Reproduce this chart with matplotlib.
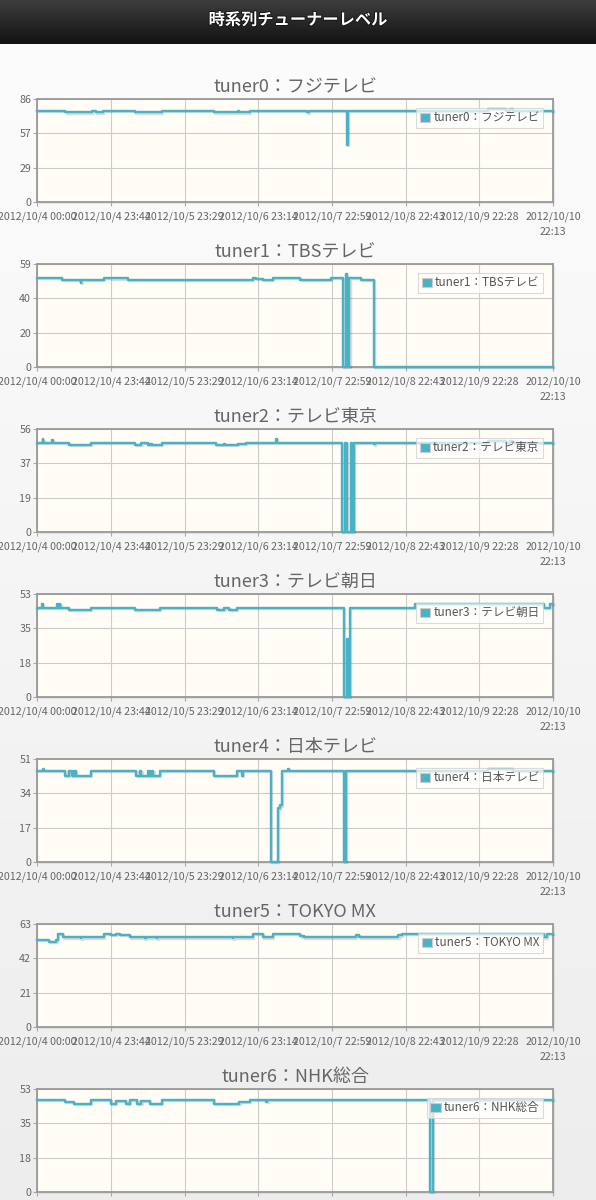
import numpy as np
import matplotlib
matplotlib.use("Agg")
import matplotlib.pyplot as plt
from matplotlib.patches import Rectangle, Patch
import matplotlib.patheffects as pe

plt.rcParams['font.family'] = ['Noto Sans CJK JP', 'DejaVu Sans']

# ---------------- data ----------------
page_title = "時系列チューナーレベル"
titles = ["tuner0：フジテレビ", "tuner1：TBSテレビ", "tuner2：テレビ東京",
          "tuner3：テレビ朝日", "tuner4：日本テレビ", "tuner5：TOKYO MX",
          "tuner6：NHK総合"]
ymax = [86, 59.4, 56, 53, 51, 63, 53]
# hours since 2012/10/4 00:00 ; last sample 2012/10/10 22:13
t_end = 166.22
x_tick_labels = ["2012/10/4 00:00", "2012/10/4 23:44", "2012/10/5 23:29",
                 "2012/10/6 23:14", "2012/10/7 22:59", "2012/10/8 22:43",
                 "2012/10/9 22:28", "2012/10/10\n22:13"]

t0 = [0, 9.04, 17.76, 18.84, 21.02, 31.37, 40.09, 56.97, 64.6, 65.14, 68.41,
      86.93, 87.4, 99.78, 100.0, 145.2, 151.19, 152.28, 153.37, 166.22]
v0 = [76.4, 75.0, 76.4, 75.0, 76.4, 75.0, 76.4, 75.0, 76.4, 75.0, 76.4,
      75.0, 76.4, 47.5, 76.4, 77.8, 76.4, 77.8, 76.4, 76.4]

t1 = [0, 7.95, 13.94, 14.2, 21.35, 23.75, 29.19, 69.5, 70.6, 72.77, 76.03,
      84.75, 94.55, 98.6, 99.5, 99.7, 100.6, 104.35, 108.49, 166.22]
v1 = [51.6, 50.4, 48.5, 50.4, 51.6, 51.2, 50.4, 51.6, 50.9, 50.4, 51.6,
      50.4, 51.6, 0, 53.5, 0, 51.6, 50.4, 0, 0]

t2 = [0, 1.74, 1.95, 4.68, 4.9, 10.13, 17.21, 31.37, 33.55, 35.73, 36.27,
      37.0, 40.09, 57.52, 60.24, 60.5, 64.6, 67.32, 76.91, 77.1, 98.04,
      99.24, 99.67, 101.09, 101.41, 101.96, 108.49, 108.7, 145.2, 151.19,
      152.28, 153.37, 166.22]
v2 = [48.7, 50.5, 48.7, 50.2, 48.7, 47.5, 48.7, 47.5, 48.7, 47.5, 48.2,
      47.5, 48.7, 47.5, 48.2, 47.5, 48.2, 48.7, 50.8, 48.7, 0,
      48.7, 0, 48.7, 0, 48.7, 47.8, 48.7, 49.8, 48.7,
      49.8, 48.7, 48.7]

t3 = [0, 1.42, 1.65, 6.32, 6.5, 7.19, 7.41, 10.13, 17.21, 31.37, 39.54,
      58.06, 60.24, 61.87, 64.27, 98.91, 99.8, 100.0, 100.76, 121.78,
      163.18, 165.14, 166.22]
v3 = [45.8, 47.9, 45.8, 47.9, 45.8, 47.9, 45.8, 44.8, 45.8, 44.8, 45.8,
      44.8, 45.8, 44.8, 45.8, 0, 30.0, 0, 45.8, 47.9,
      45.8, 47.9, 47.9]

t4 = [0, 1.74, 2.0, 9.04, 10.13, 11.2, 11.76, 12.31, 17.21, 31.92, 33.0,
      33.55, 35.73, 36.3, 36.82, 37.4, 39.54, 56.97, 64.27, 66.01, 66.2,
      75.16, 77.45, 78.22, 78.76, 80.94, 81.15, 98.7, 99.46, 145.2, 153.37,
      166.22]
v4 = [45.2, 46.1, 45.2, 42.8, 45.2, 42.8, 45.2, 42.8, 45.2, 42.8, 45.2,
      42.8, 45.2, 42.8, 45.2, 42.8, 45.2, 42.8, 45.2, 42.8, 45.2,
      0, 26.6, 28.0, 45.2, 46.1, 45.2, 0, 45.2, 46.3, 45.2,
      45.2]

t5 = [0, 3.59, 6.1, 6.54, 8.28, 13.94, 14.2, 21.35, 23.75, 25.4, 26.5,
      29.74, 34.64, 34.9, 38.45, 38.7, 62.96, 63.2, 69.5, 72.77, 76.03,
      84.75, 85.84, 102.72, 103.81, 116.34, 117.43, 163.18, 164.27, 166.22]
v5 = [53.5, 52.4, 53.5, 56.9, 54.9, 54.3, 54.9, 56.9, 56.3, 56.9, 56.3,
      54.9, 54.3, 54.9, 54.3, 54.9, 54.3, 54.9, 56.9, 54.9, 56.9,
      55.5, 54.9, 56.5, 54.9, 56.2, 56.9, 54.9, 56.9, 56.9]

t6 = [0, 8.82, 11.76, 17.21, 23.75, 25.38, 28.65, 29.74, 32.24, 33.55,
      36.27, 40.09, 56.97, 65.14, 68.41, 73.85, 74.1, 126.47, 127.45, 166.22]
v6 = [47.5, 46.5, 45.6, 47.5, 45.6, 47.0, 45.6, 47.5, 45.6, 47.0,
      45.6, 47.5, 45.6, 46.5, 47.5, 46.5, 47.5, 0, 47.5, 47.5]

series_t = [t0, t1, t2, t3, t4, t5, t6]
series_v = [v0, v1, v2, v3, v4, v5, v6]

# ---------------- layout ----------------
W, H = 596, 1200
LINE = "#4bb2c5"

fig = plt.figure(figsize=(W / 100, H / 100), dpi=100)


def px_rect(left, top, width, height):
    return [left / W, 1 - (top + height) / H, width / W, height / H]


# page background gradient
bg = fig.add_axes([0, 0, 1, 1], zorder=-10)
grad = np.linspace(0, 1, 256).reshape(-1, 1)
c_top = np.array([0.99, 0.99, 0.99])
c_bot = np.array([0.93, 0.93, 0.93])
img = c_top[None, None, :] * (1 - grad[:, :, None]) + c_bot[None, None, :] * grad[:, :, None]
bg.imshow(img, aspect="auto", extent=[0, 1, 0, 1])
bg.set_axis_off()

# header bar
hd = fig.add_axes(px_rect(0, 0, W, 44), zorder=-5)
hg = np.linspace(0, 1, 64).reshape(-1, 1)
h_top = np.array([0.24, 0.24, 0.24])
h_bot = np.array([0.07, 0.07, 0.07])
himg = h_top[None, None, :] * (1 - hg[:, :, None]) + h_bot[None, None, :] * hg[:, :, None]
hd.imshow(himg, aspect="auto", extent=[0, 1, 0, 1])
hd.set_axis_off()
hd.text(0.5, 0.55, page_title, transform=hd.transAxes, ha="center", va="center",
        color="white", fontsize=11.7, fontweight="bold",
        path_effects=[pe.withStroke(linewidth=1.2, foreground="#111111")])

PL, PW, PH = 37.4, 515.6, 102.4
for k in range(7):
    top = 99.3 + 165 * k
    # shadow behind plot border
    fig.patches.append(Rectangle(((PL + 2) / W, 1 - (top + PH + 2) / H), PW / W, PH / H,
                                 transform=fig.transFigure, facecolor="black",
                                 alpha=0.07, edgecolor="none", zorder=-1))
    ax = fig.add_axes(px_rect(PL, top, PW, PH))
    ax.set_facecolor("#fffdf6")
    ax.plot(series_t[k], series_v[k], drawstyle="steps-post", color=LINE, lw=1.75,
            clip_on=False, zorder=3,
            path_effects=[pe.SimpleLineShadow(offset=(0.9, -0.9), alpha=0.13), pe.Normal()])
    ax.set_xlim(0, t_end)
    ax.set_ylim(0, ymax[k])
    yt = np.linspace(0, ymax[k], 4)
    ax.set_yticks(yt)
    ax.set_yticklabels(["%d" % round(v) for v in yt])
    ax.set_xticks(np.linspace(0, t_end, 8))
    ax.set_xticklabels(x_tick_labels, linespacing=1.55)
    ax.grid(True, color="#cccccc", lw=0.8)
    ax.set_axisbelow(True)
    for s in ax.spines.values():
        s.set_color("#999999")
        s.set_linewidth(1.3)
        s.set_zorder(2.5)
    ax.tick_params(direction="out", length=3, width=0.8, colors="#aaaaaa",
                   labelsize=7.7, labelcolor="#666666", pad=1.5)
    ax.tick_params(axis="x", pad=4.3)
    ax.text(0.5, 1 + 12 / PH, titles[k], transform=ax.transAxes, ha="center",
            va="center", fontsize=13, color="#666666")
    leg = ax.legend(handles=[Patch(facecolor=LINE, edgecolor="#cccccc", lw=0.8)],
                    labels=[titles[k]], loc="upper right",
                    bbox_to_anchor=(1 - 10 / PW, 1 - 8.5 / PH), borderaxespad=0,
                    fontsize=8.4, fancybox=False, framealpha=0.7, facecolor="white",
                    edgecolor="#cccccc", handlelength=0.9, handleheight=0.8,
                    handletextpad=0.25, borderpad=0.3, labelcolor="#555555")
    leg.get_frame().set_linewidth(0.8)
    leg.set_zorder(5)

fig.savefig("out.png", dpi=100)
